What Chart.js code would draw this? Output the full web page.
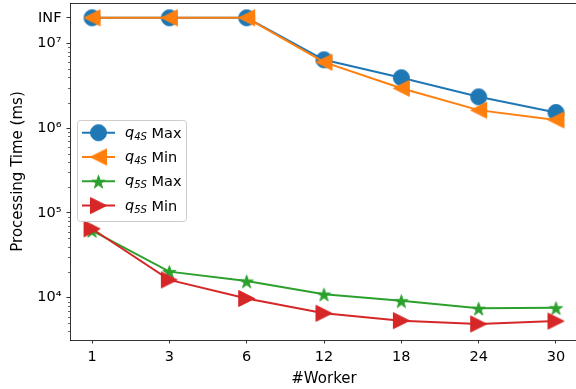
<!DOCTYPE html>
<html>
<head>
<meta charset="utf-8">
<script src="https://cdn.jsdelivr.net/npm/chart.js@4"></script>
<style>
  html, body { margin: 0; padding: 0; background: #fff; overflow: hidden; }
  #wrap { position: relative; width: 580px; height: 389px; }
</style>
</head>
<body>
<div id="wrap"><canvas id="myChart"></canvas></div>
<script>
const workers = ["1", "3", "6", "12", "18", "24", "30"];
const q4sMax = [2e7, 2e7, 2e7, 6.4e6, 3.93e6, 2.34e6, 1.53e6];
const q4sMin = [2e7, 2e7, 2e7, 6.0e6, 2.95e6, 1.63e6, 1.25e6];
const q5sMax = [6.2e4, 2.03e4, 1.57e4, 1.1e4, 9.2e3, 7.5e3, 7.6e3];
const q5sMin = [6.5e4, 1.62e4, 9.8e3, 6.55e3, 5.36e3, 4.9e3, 5.3e3];
const yMajorTicks = [1e4, 1e5, 1e6, 1e7];
const yMajorLabels = ["10\u2074", "10\u2075", "10\u2076", "10\u2077"];
const infValue = 2e7;
const infLabel = "INF";

const FONT = "'DejaVu Sans', sans-serif";

// marker images, matplotlib look
function makeMarker(kind, color) {
  const c = document.createElement("canvas");
  c.width = 19;
  c.height = 19;
  const g = c.getContext("2d");
  const m = 9.5;
  g.fillStyle = color;
  g.strokeStyle = color;
  g.lineWidth = 1;
  g.beginPath();
  if (kind === "circle") {
    g.arc(m, m, 8, 0, Math.PI * 2);
  } else if (kind === "left") {
    g.moveTo(m - 8, m);
    g.lineTo(m + 8, m - 8);
    g.lineTo(m + 8, m + 8);
    g.closePath();
  } else if (kind === "right") {
    g.moveTo(m + 8, m);
    g.lineTo(m - 8, m - 8);
    g.lineTo(m - 8, m + 8);
    g.closePath();
  } else {
    for (let k = 0; k < 10; k++) {
      const r = k % 2 === 0 ? 7 : 7 * 0.381966;
      const a = -Math.PI / 2 + (k * Math.PI) / 5;
      const px = m + r * Math.cos(a);
      const py = m + 1 + r * Math.sin(a);
      if (k === 0) g.moveTo(px, py);
      else g.lineTo(px, py);
    }
    g.closePath();
  }
  g.fill();
  g.stroke();
  return c;
}

const series = [
  { name: "Max", sub: "4S", values: q4sMax, color: "#1f77b4", marker: "circle" },
  { name: "Min", sub: "4S", values: q4sMin, color: "#ff7f0e", marker: "left" },
  { name: "Max", sub: "5S", values: q5sMax, color: "#2ca02c", marker: "star" },
  { name: "Min", sub: "5S", values: q5sMin, color: "#d62728", marker: "right" },
];
series.forEach((s) => (s.img = makeMarker(s.marker, s.color)));

const yAllTicks = [];
for (let e = 3; e <= 7; e++) {
  for (let k = 1; k <= 9; k++) {
    const v = k * Math.pow(10, e);
    if (v >= 3170 && v <= 2.99e7) yAllTicks.push(v);
  }
}

const frame = {
  id: "frame",
  afterDraw(chart) {
    const { ctx, chartArea, scales } = chart;
    ctx.save();
    ctx.strokeStyle = "#000";
    ctx.lineWidth = 0.8;
    // top spine
    ctx.beginPath();
    ctx.moveTo(chartArea.left, chartArea.top + 0.5);
    ctx.lineTo(chartArea.right, chartArea.top + 0.5);
    ctx.stroke();
    // minor y ticks
    ctx.lineWidth = 0.6;
    yAllTicks.forEach((v) => {
      if (yMajorTicks.includes(v) || v === infValue) return;
      const y = Math.round(scales.y.getPixelForValue(v)) + 0.5;
      ctx.beginPath();
      ctx.moveTo(chartArea.left - 2, y);
      ctx.lineTo(chartArea.left, y);
      ctx.stroke();
    });

    // legend
    const bx = 77.5, by = 120.5, bw = 109, bh = 101;
    ctx.fillStyle = "rgba(255,255,255,0.8)";
    ctx.strokeStyle = "#cccccc";
    ctx.lineWidth = 1;
    ctx.beginPath();
    ctx.roundRect(bx, by, bw, bh, 3);
    ctx.fill();
    ctx.stroke();
    series.forEach((s, i) => {
      const y = 132.7 + i * 24.3;
      ctx.strokeStyle = s.color;
      ctx.lineWidth = 2;
      ctx.beginPath();
      ctx.moveTo(82, y);
      ctx.lineTo(115, y);
      ctx.stroke();
      ctx.drawImage(s.img, 98.5 - s.img.width / 2, y - s.img.height / 2);
      ctx.fillStyle = "#000";
      ctx.textBaseline = "alphabetic";
      ctx.textAlign = "left";
      let x = 125;
      ctx.font = "italic 14.5px " + FONT;
      ctx.fillText("q", x, y + 4);
      x += ctx.measureText("q").width;
      ctx.font = "italic 10px " + FONT;
      ctx.fillText(s.sub, x, y + 7);
      x += ctx.measureText(s.sub).width;
      ctx.font = "14.5px " + FONT;
      ctx.fillText(" " + s.name, x, y + 5);
    });
    ctx.restore();
  },
};

new Chart(document.getElementById("myChart"), {
  type: "line",
  data: {
    datasets: series.map((s, i) => ({
      label: s.sub + " " + s.name,
      data: s.values.map((v, j) => ({ x: j, y: v })),
      borderColor: s.color,
      backgroundColor: s.color,
      borderWidth: 2,
      pointStyle: s.img,
      pointRadius: 8,
      pointHoverRadius: 8,
      tension: 0,
      clip: false,
      order: 4 - i,
    })),
  },
  options: {
    responsive: true,
    maintainAspectRatio: false,
    animation: false,
    events: [],
    layout: { autoPadding: false, padding: { left: 0, right: 2, top: 3, bottom: 0 } },
    plugins: {
      legend: { display: false },
      tooltip: { enabled: false },
    },
    scales: {
      x: {
        type: "linear",
        min: -0.285,
        max: 6.285,
        afterBuildTicks: (scale) => {
          scale.ticks = workers.map((_, i) => ({ value: i }));
        },
        afterFit: (scale) => {
          scale.height = 49;
          scale.paddingLeft = 0;
          scale.paddingRight = 0;
        },
        ticks: {
          callback: (v) => workers[v],
          color: "#000",
          font: { family: FONT, size: 14.5 },
          padding: 5.5,
          maxRotation: 0,
        },
        grid: {
          drawOnChartArea: false,
          tickLength: 3.5,
          tickColor: "#000",
          tickWidth: 0.8,
        },
        border: { color: "#000", width: 0.8 },
        title: {
          display: true,
          text: "#Worker",
          color: "#000",
          font: { family: FONT, size: 15 },
          padding: { top: 0, bottom: 1 },
        },
      },
      y: {
        type: "logarithmic",
        min: 3170,
        max: 2.99e7,
        afterBuildTicks: (scale) => {
          scale.ticks = yMajorTicks.concat([infValue]).map((v) => ({ value: v }));
        },
        afterFit: (scale) => {
          scale.width = 70;
          scale.paddingTop = 0;
          scale.paddingBottom = 0;
        },
        ticks: {
          callback: (v) => {
            if (v === infValue) return infLabel;
            const k = yMajorTicks.indexOf(v);
            return k >= 0 ? yMajorLabels[k] : "";
          },
          color: "#000",
          font: { family: FONT, size: 14.5 },
          padding: 5,
          autoSkip: false,
        },
        grid: {
          drawOnChartArea: false,
          tickLength: 3.5,
          tickColor: "#000",
          tickWidth: 0.8,
        },
        border: { color: "#000", width: 0.8 },
        title: {
          display: true,
          text: "Processing Time (ms)",
          color: "#000",
          font: { family: FONT, size: 15 },
          padding: { top: 9, bottom: 0 },
        },
      },
    },
  },
  plugins: [frame],
});
</script>
</body>
</html>
